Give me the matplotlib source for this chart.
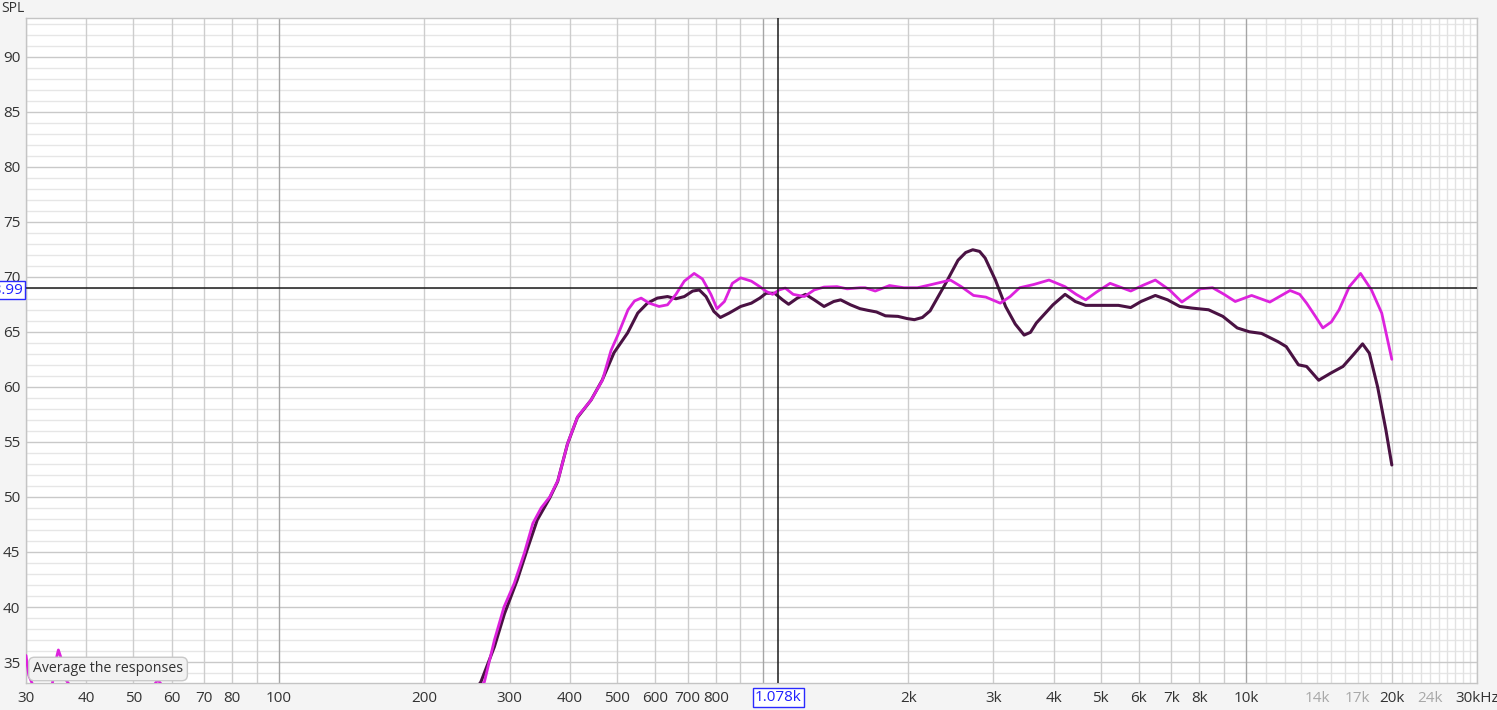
import numpy as np
import matplotlib
matplotlib.use("Agg")
import matplotlib.pyplot as plt

plt.rcParams["font.family"] = ["Open Sans", "DejaVu Sans"]

# ----------------------------------------------------------------------
# Data (frequency in Hz, SPL in dB)
# ----------------------------------------------------------------------
freq_dark = [255, 261.6, 279, 292.7, 311, 326, 342, 363, 377, 395, 414, 442,
             466, 493, 526, 552, 578, 606, 636, 662, 689, 717, 740, 764, 793,
             818, 853, 901, 948, 987, 1017, 1059, 1100, 1132, 1180, 1227,
             1279, 1340, 1403, 1450, 1520, 1590, 1650, 1720, 1795, 1905, 1990,
             2060, 2140, 2220, 2391, 2536, 2630, 2720, 2810, 2885, 3030, 3180,
             3330, 3474, 3580, 3682, 3985, 4221, 4432, 4656, 5134, 5442, 5770,
             6060, 6487, 6878, 7290, 7730, 8356, 8946, 9581, 10147, 10755,
             11635, 12100, 12820, 13330, 14120, 14960, 15850, 16640, 17400,
             17970, 18690, 19440, 20000]
spl_dark = [32.5, 33.2, 36.4, 39.4, 42.45, 45.2, 47.9, 49.9, 51.4, 54.8, 57.2,
            58.8, 60.6, 63.1, 64.9, 66.7, 67.6, 68.06, 68.2, 68.0, 68.2, 68.7,
            68.8, 68.2, 66.85, 66.3, 66.7, 67.3, 67.6, 68.06, 68.5, 68.5, 67.9,
            67.5, 68.06, 68.4, 67.9, 67.3, 67.75, 67.9, 67.45, 67.1, 66.95,
            66.8, 66.45, 66.4, 66.2, 66.1, 66.3, 66.9, 69.4, 71.5, 72.2, 72.45,
            72.3, 71.7, 69.7, 67.3, 65.7, 64.7, 64.95, 65.8, 67.45, 68.4, 67.75,
            67.4, 67.4, 67.4, 67.2, 67.75, 68.3, 67.9, 67.3, 67.15, 67.0, 66.4,
            65.35, 65.0, 64.85, 64.1, 63.65, 62.0, 61.85, 60.6, 61.25, 61.85,
            62.9, 63.9, 63.05, 60.0, 56.1, 52.9]

freq_mag = [258, 266, 279, 292, 306.6, 321.7, 335, 348.5, 363, 377.5, 395.6,
            414.7, 442, 466.5, 486, 502, 527, 543.6, 561, 583, 611, 636, 662,
            689, 722, 751, 782, 805, 834, 866, 901, 948, 987, 1017, 1049, 1082,
            1114, 1157, 1220, 1279, 1340, 1425, 1496, 1590, 1630, 1710, 1830,
            1960, 2090, 2240, 2445, 2575, 2730, 2895, 3100, 3250, 3400, 3640,
            3910, 4220, 4450, 4656, 4900, 5230, 5770, 6100, 6487, 6940, 7360,
            7700, 8040, 8520, 9000, 9490, 10260, 11190, 12320, 12900, 13330,
            13900, 14400, 15000, 15560, 16340, 17230, 18150, 19060, 20000]
spl_mag = [32.5, 33.2, 37.0, 40.0, 42.15, 44.9, 47.6, 49.0, 50.0, 51.5, 54.9,
           57.3, 58.8, 60.6, 63.3, 64.7, 67.0, 67.8, 68.06, 67.6, 67.3, 67.45,
           68.4, 69.6, 70.3, 69.8, 68.4, 67.1, 67.75, 69.4, 69.9, 69.6, 69.1,
           68.67, 68.4, 68.8, 68.97, 68.4, 68.2, 68.8, 69.06, 69.1, 68.9, 69.0,
           69.0, 68.7, 69.2, 69.0, 69.0, 69.3, 69.7, 69.1, 68.3, 68.15, 67.6,
           68.2, 69.0, 69.3, 69.7, 69.1, 68.4, 67.9, 68.6, 69.4, 68.7, 69.2,
           69.7, 68.8, 67.7, 68.3, 68.9, 69.0, 68.4, 67.75, 68.3, 67.7, 68.75,
           68.4, 67.6, 66.4, 65.35, 65.9, 67.0, 69.1, 70.3, 68.8, 66.7, 62.5]

# low-frequency noise of the magenta trace, mostly below the visible range
freq_mag_low = [30, 30.4, 31.0, 31.8, 33.0, 34.0, 34.6, 35.0, 35.5, 36.0,
                36.8, 38.0, 45, 52, 55, 56.2, 57.5, 60]
spl_mag_low = [35.6, 33.8, 32.9, 32.3, 31.5, 33.0, 35.2, 36.1, 35.3, 33.6,
               33.0, 31.5, 30.0, 31.0, 32.8, 33.4, 32.8, 31.0]

cursor_freq = 1078
cursor_spl = 68.99

x_ticks = [30, 40, 50, 60, 70, 80, 100, 200, 300, 400, 500, 600, 700, 800,
           2000, 3000, 4000, 5000, 6000, 7000, 8000, 10000, 14000, 17000,
           20000, 24000, 30000]
x_labels = ["30", "40", "50", "60", "70", "80", "100", "200", "300", "400",
            "500", "600", "700", "800", "2k", "3k", "4k", "5k", "6k", "7k",
            "8k", "10k", "14k", "17k", "20k", "24k", "30kHz"]
x_faded = ["14k", "17k", "24k"]
y_ticks = list(range(35, 95, 5))

# ----------------------------------------------------------------------
W, H = 1497, 710
fig = plt.figure(figsize=(W / 100, H / 100), dpi=100, facecolor="#f4f4f4")
ax = fig.add_axes([26 / W, (H - 683) / H, (1477 - 26) / W, (683 - 18) / H])
ax.set_facecolor("white")
ax.set_xscale("log")
ax.set_xlim(30, 30000)
ax.set_ylim(33.1, 93.5)

# grid: horizontal
for v in range(34, 94):
    if v % 5 == 0:
        ax.axhline(v, color="#c9c9c9", lw=1.0, zorder=1)
    else:
        ax.axhline(v, color="#e6e6e6", lw=1.0, zorder=0.9)

# grid: vertical
vlines = []
for dec in [10, 100, 1000]:
    for m in range(1, 10):
        vlines.append(dec * m)
vlines += list(range(10000, 30001, 1000))
for v in vlines:
    if v < 30 or v > 30000:
        continue
    if v in (100, 1000, 10000):
        ax.axvline(v, color="#a5a5a5", lw=1.0, zorder=1.1)
    elif v > 10000 and v not in (20000, 30000):
        ax.axvline(v, color="#e2e2e2", lw=1.0, zorder=0.9)
    else:
        ax.axvline(v, color="#cdcdcd", lw=1.0, zorder=1)

# curves
line_kw = dict(solid_joinstyle="round", solid_capstyle="round")
ax.plot(freq_mag_low, spl_mag_low, color="#dd22dd", lw=2.0, zorder=3,
        **line_kw)
ax.plot(freq_dark, spl_dark, color="#4a1243", lw=2.2, zorder=3, **line_kw)
ax.plot(freq_mag, spl_mag, color="#dd22dd", lw=2.0, zorder=4, **line_kw)

# cursor
ax.axvline(cursor_freq, color="#1a1a1a", lw=1.1, zorder=5)
ax.axhline(cursor_spl, color="#1a1a1a", lw=1.1, zorder=5)

# ticks / labels
ax.set_xticks(x_ticks)
ax.set_xticklabels(x_labels)
ax.xaxis.set_minor_locator(matplotlib.ticker.NullLocator())
ax.set_yticks(y_ticks)
ax.tick_params(axis="both", length=0, labelsize=11, colors="#333333")
ax.tick_params(axis="x", pad=6)
ax.tick_params(axis="y", pad=4)
for lbl in ax.get_xticklabels():
    if lbl.get_text() in x_faded:
        lbl.set_color("#a8a8a8")

for s in ax.spines.values():
    s.set_color("#c4c4c4")
    s.set_linewidth(1.0)

# cursor read-outs
ax.text(cursor_freq, -0.022, "1.078k", transform=ax.get_xaxis_transform(),
        ha="center", va="center", fontsize=11, color="#1f1fff", zorder=10,
        clip_on=False,
        bbox=dict(boxstyle="square,pad=0.15", facecolor="white",
                  edgecolor="#2a2aff", lw=1.0))
fig.text(23 / W, 1 - 290 / H, "68.99", ha="right", va="center", fontsize=11,
         color="#1f1fff", zorder=10,
         bbox=dict(boxstyle="square,pad=0.1", facecolor="white",
                   edgecolor="#2a2aff", lw=1.0))

fig.text(1 / W, 1 - 1 / H, "SPL", ha="left", va="top", fontsize=10,
         color="#333333")

# tooltip
fig.text(33 / W, 1 - 669 / H, "Average the responses", ha="left",
         va="center", fontsize=10.2, color="#333333", zorder=10,
         bbox=dict(boxstyle="round,pad=0.3,rounding_size=0.4",
                   facecolor="#f2f2f2", edgecolor="#c8c8c8", lw=1.0))

fig.savefig("out.png", dpi=100, facecolor=fig.get_facecolor())
